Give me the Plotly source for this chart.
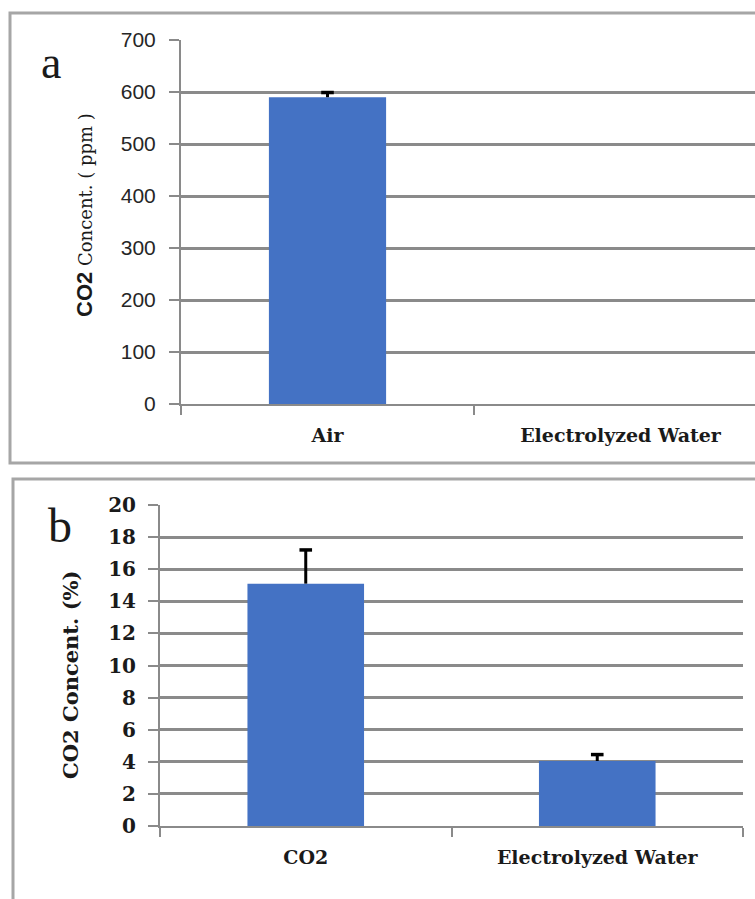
import plotly.graph_objects as go

# ---- data ----
cats_a = ["Air", "Electrolyzed Water"]
vals_a = [590, 0]
err_a = [9, 0]

cats_b = ["CO2", "Electrolyzed Water"]
vals_b = [15.1, 4.05]
err_b = [2.1, 0.4]

yticks_a = [0, 100, 200, 300, 400, 500, 600, 700]
yticks_b = [0, 2, 4, 6, 8, 10, 12, 14, 16, 18, 20]

W, H = 755, 899
BAR = "#4472C4"
GRID = "#8a8a8a"
FRAME = "#a6a6a6"
SERIF = "DejaVu Serif, serif"
TSERIF = "Liberation Serif, Times New Roman, serif"
SANS = "Liberation Sans, Arial, sans-serif"
INK = "#1a1a1a"

def px(x):
    return x / W

def py(y):
    return 1 - y / H

fig = go.Figure()

def add_bars(cats, vals, errs, xa, ya):
    fig.add_trace(go.Bar(
        x=cats, y=vals, width=0.4, marker=dict(color=BAR, line=dict(width=0)),
        xaxis=xa, yaxis=ya, showlegend=False, hoverinfo="skip"))
    # plus-only error bars (Excel style: upper whisker with a single cap)
    for c, v, e in zip(cats, vals, errs):
        if e <= 0:
            continue
        fig.add_trace(go.Scatter(
            x=[c, c], y=[v, v + e], mode="lines",
            line=dict(color="black", width=3),
            xaxis=xa, yaxis=ya, showlegend=False, hoverinfo="skip"))
        fig.add_trace(go.Scatter(
            x=[c], y=[v + e], mode="markers",
            marker=dict(symbol="line-ew", size=9, color="black",
                        line=dict(color="black", width=3.5)),
            xaxis=xa, yaxis=ya, showlegend=False, hoverinfo="skip"))

add_bars(cats_a, vals_a, err_a, "x", "y")
add_bars(cats_b, vals_b, err_b, "x2", "y2")

xcommon = dict(showline=True, linecolor=GRID, linewidth=2, ticks="outside",
               tickson="boundaries", ticklen=9, tickwidth=2, tickcolor=GRID,
               showgrid=False, zeroline=False,
               tickfont=dict(family=SERIF, size=19, color=INK, weight="bold"),
               ticklabelstandoff=13)
ycommon = dict(showline=True, linecolor=GRID, linewidth=2, ticks="outside",
               ticklen=10, tickwidth=2, tickcolor=GRID, showgrid=True,
               gridcolor=GRID, gridwidth=2.5, zeroline=False)

fig.update_layout(
    width=W, height=H,
    margin=dict(l=0, r=0, t=0, b=0, pad=0, autoexpand=False),
    paper_bgcolor="white", plot_bgcolor="white", barmode="overlay",
    xaxis=dict(domain=[px(181), 1.0], anchor="y", type="category",
               categoryorder="array", categoryarray=cats_a,
               range=[-0.5, -0.5 + (755 - 181) / 293.0], automargin=False, **xcommon),
    yaxis=dict(domain=[py(404), py(40)], anchor="x", range=[0, 700],
               tickvals=yticks_a, ticklabelstandoff=9, automargin=False,
               tickfont=dict(family=SANS, size=21, color="#262626"), **ycommon),
    xaxis2=dict(domain=[px(160), px(743)], anchor="y2", type="category",
                categoryorder="array", categoryarray=cats_b,
                range=[-0.5, 1.5], automargin=False, **xcommon),
    yaxis2=dict(domain=[py(826), py(505)], anchor="x2", range=[0, 20],
                tickvals=yticks_b, ticklabelstandoff=8, automargin=False,
                tickfont=dict(family=SERIF, size=20, color=INK, weight="bold"), **ycommon),
)

# panel frames
fig.add_shape(type="rect", xref="paper", yref="paper",
              x0=px(10), x1=1.05, y0=py(463), y1=py(13),
              line=dict(color=FRAME, width=3), fillcolor="rgba(0,0,0,0)", layer="below")
fig.add_shape(type="rect", xref="paper", yref="paper",
              x0=px(13), x1=1.05, y0=-0.05, y1=py(479),
              line=dict(color=FRAME, width=3), fillcolor="rgba(0,0,0,0)", layer="below")

# panel letters
fig.add_annotation(x=px(51), y=py(63), xref="paper", yref="paper", text="a",
                   xanchor="center", yanchor="middle",
                   showarrow=False, font=dict(family=TSERIF, size=46, color=INK))
fig.add_annotation(x=px(60), y=py(525), xref="paper", yref="paper", text="b",
                   xanchor="center", yanchor="middle",
                   showarrow=False, font=dict(family=TSERIF, size=48, color=INK))

# y-axis titles
fig.add_annotation(x=px(85), y=py(215), xref="paper", yref="paper", textangle=-90,
                   xanchor="center", yanchor="middle",
                   text="<span style='font-family:Liberation Sans;font-weight:bold;font-size:22px'>CO2</span> Concent. ( ppm )",
                   showarrow=False, font=dict(family=SERIF, size=18, color=INK))
fig.add_annotation(x=px(70), y=py(675), xref="paper", yref="paper", textangle=-90,
                   xanchor="center", yanchor="middle",
                   text="CO2 Concent. (%)",
                   showarrow=False, font=dict(family=SERIF, size=21, color=INK, weight="bold"))

fig.write_html("out.html")
